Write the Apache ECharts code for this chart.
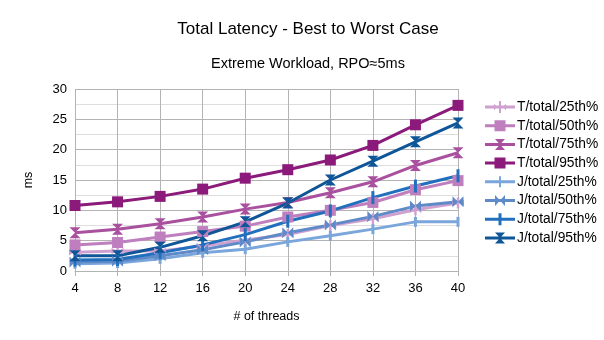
<!DOCTYPE html>
<html><head><meta charset="utf-8">
<script src="https://cdn.jsdelivr.net/npm/echarts@6/dist/echarts.min.js"></script>
<style>html,body{margin:0;padding:0;background:#fff}#c{width:604px;height:340px}</style>
</head><body><div id="c"></div>
<script>
const threads = ['4','8','12','16','20','24','28','32','36','40'];
const seriesNames = ['T/total/25th%','T/total/50th%','T/total/75th%','T/total/95th%','J/total/25th%','J/total/50th%','J/total/75th%','J/total/95th%'];
const T25 = [3.1, 3.3, 3.3, 4.1, 5.1, 6.0, 7.5, 8.6, 10.1, 11.2];
const T50 = [4.3, 4.7, 5.6, 6.5, 7.4, 8.9, 10.0, 11.3, 13.4, 14.9];
const T75 = [6.3, 6.9, 7.8, 8.9, 10.2, 11.3, 12.9, 14.7, 17.4, 19.5];
const T95 = [10.8, 11.4, 12.3, 13.5, 15.3, 16.7, 18.3, 20.7, 24.1, 27.3];
const J25 = [1.2, 1.3, 2.0, 3.0, 3.6, 4.8, 5.8, 6.9, 8.1, 8.1];
const J50 = [1.5, 1.6, 2.5, 3.5, 4.8, 6.3, 7.6, 9.0, 10.7, 11.4];
const J75 = [1.8, 1.9, 3.0, 4.3, 6.0, 8.2, 9.9, 12.1, 14.0, 15.7];
const J95 = [2.5, 2.5, 3.9, 5.8, 8.1, 11.2, 15.0, 18.1, 21.3, 24.4];
const dataSets = [T25, T50, T75, T95, J25, J50, J75, J95];

const colors = ['#cfa0d0','#bf7fbf','#a9509f','#8b1a7b','#7aa6db','#5f8ac8','#2270bd','#0f5698'];
const hourglass = 'path://M0,0 L10,0 L5,5 Z M5,5 L10,10 L0,10 Z';
const bowtie = 'path://M0,0 L5,5 L0,10 Z M10,0 L10,10 L5,5 Z';
const arrows = 'path://M0,2 L4,5 L0,8 Z M10,2 L10,8 L6,5 Z M4,0 L6,0 L6,10 L4,10 Z';
const symbols = [arrows, 'rect', hourglass, 'rect', 'rect', bowtie, 'rect', hourglass];
const sizes = [[12,11],[11,11],[11,11],[11,11],[3,10],[11,11],[3,13],[11,11]];

// legend icons: line + marker in a 30x12 box
const L = 'M0,4.5 L30,4.5 L30,7.5 L0,7.5 Z ';
const legendIcons = [
  'path://' + L + 'M9,3 L13,6 L9,9 Z M21,3 L21,9 L17,6 Z M14,0 L16,0 L16,12 L14,12 Z',
  'path://' + L + 'M9.5,0.5 L20.5,0.5 L20.5,11.5 L9.5,11.5 Z',
  'path://' + L + 'M10,0.5 L20,0.5 L15,6 Z M15,6 L20,11.5 L10,11.5 Z',
  'path://' + L + 'M9.5,0.5 L20.5,0.5 L20.5,11.5 L9.5,11.5 Z',
  'path://' + L + 'M14,0.5 L16,0.5 L16,11.5 L14,11.5 Z',
  'path://' + L + 'M10,0.5 L15,6 L10,11.5 Z M20,0.5 L20,11.5 L15,6 Z',
  'path://' + L + 'M13.5,0 L16.5,0 L16.5,12 L13.5,12 Z',
  'path://' + L + 'M10,0.5 L20,0.5 L15,6 Z M15,6 L20,11.5 L10,11.5 Z'
];

const chart = echarts.init(document.getElementById('c'), null, {renderer:'canvas'});
const font = 'Liberation Sans';
chart.setOption({
  animation:false,
  textStyle:{fontFamily:font},
  title:[
    {text:'Total Latency - Best to Worst Case', left:303, top:16, textAlign:'center',
     textStyle:{fontSize:17, fontWeight:'normal', color:'#000', fontFamily:font}},
    {text:'Extreme Workload, RPO≈5ms', left:303, top:51, textAlign:'center',
     textStyle:{fontSize:14.5, fontWeight:'normal', color:'#000', fontFamily:font}}
  ],
  legend:{
    orient:'vertical', left:480, top:95, itemWidth:30, itemHeight:12, itemGap:4.7,
    textStyle:{fontSize:13.8, color:'#000', fontFamily:font, padding:[0,0,0,-3]},
    data: seriesNames.map((n,i)=>({name:n, icon:legendIcons[i]}))
  },
  grid:{left:75, top:89, width:383, height:182, containLabel:false},
  xAxis:{
    type:'category', data:threads, boundaryGap:false,
    name:'# of threads', nameLocation:'middle', nameGap:39,
    nameTextStyle:{fontSize:12.5, color:'#000', fontFamily:font},
    axisLine:{show:true, lineStyle:{color:'#b3b3b3'}},
    axisTick:{show:true, length:5, lineStyle:{color:'#b3b3b3'}},
    axisLabel:{fontSize:13, color:'#000', margin:11, fontFamily:font},
    splitLine:{show:true, lineStyle:{color:'#b3b3b3'}}
  },
  yAxis:{
    type:'value', min:0, max:30, interval:5,
    name:'ms', nameLocation:'middle', nameGap:40, nameRotate:90,
    nameTextStyle:{fontSize:12.5, color:'#000', fontFamily:font},
    axisLine:{show:false}, axisTick:{show:false},
    axisLabel:{fontSize:13, color:'#000', margin:8, fontFamily:font},
    splitLine:{show:true, lineStyle:{color:'#b3b3b3'}},
    minorTick:{show:false, splitNumber:2},
    minorSplitLine:{show:true, lineStyle:{color:'#dddddd'}}
  },
  series: seriesNames.map((n,i)=>({
    name:n, type:'line', data:dataSets[i],
    symbol:symbols[i], symbolSize:sizes[i], showAllSymbol:true,
    lineStyle:{width:3, color:colors[i]},
    itemStyle:{color:colors[i], borderWidth:0},
    color:colors[i]
  }))
});
</script></body></html>
